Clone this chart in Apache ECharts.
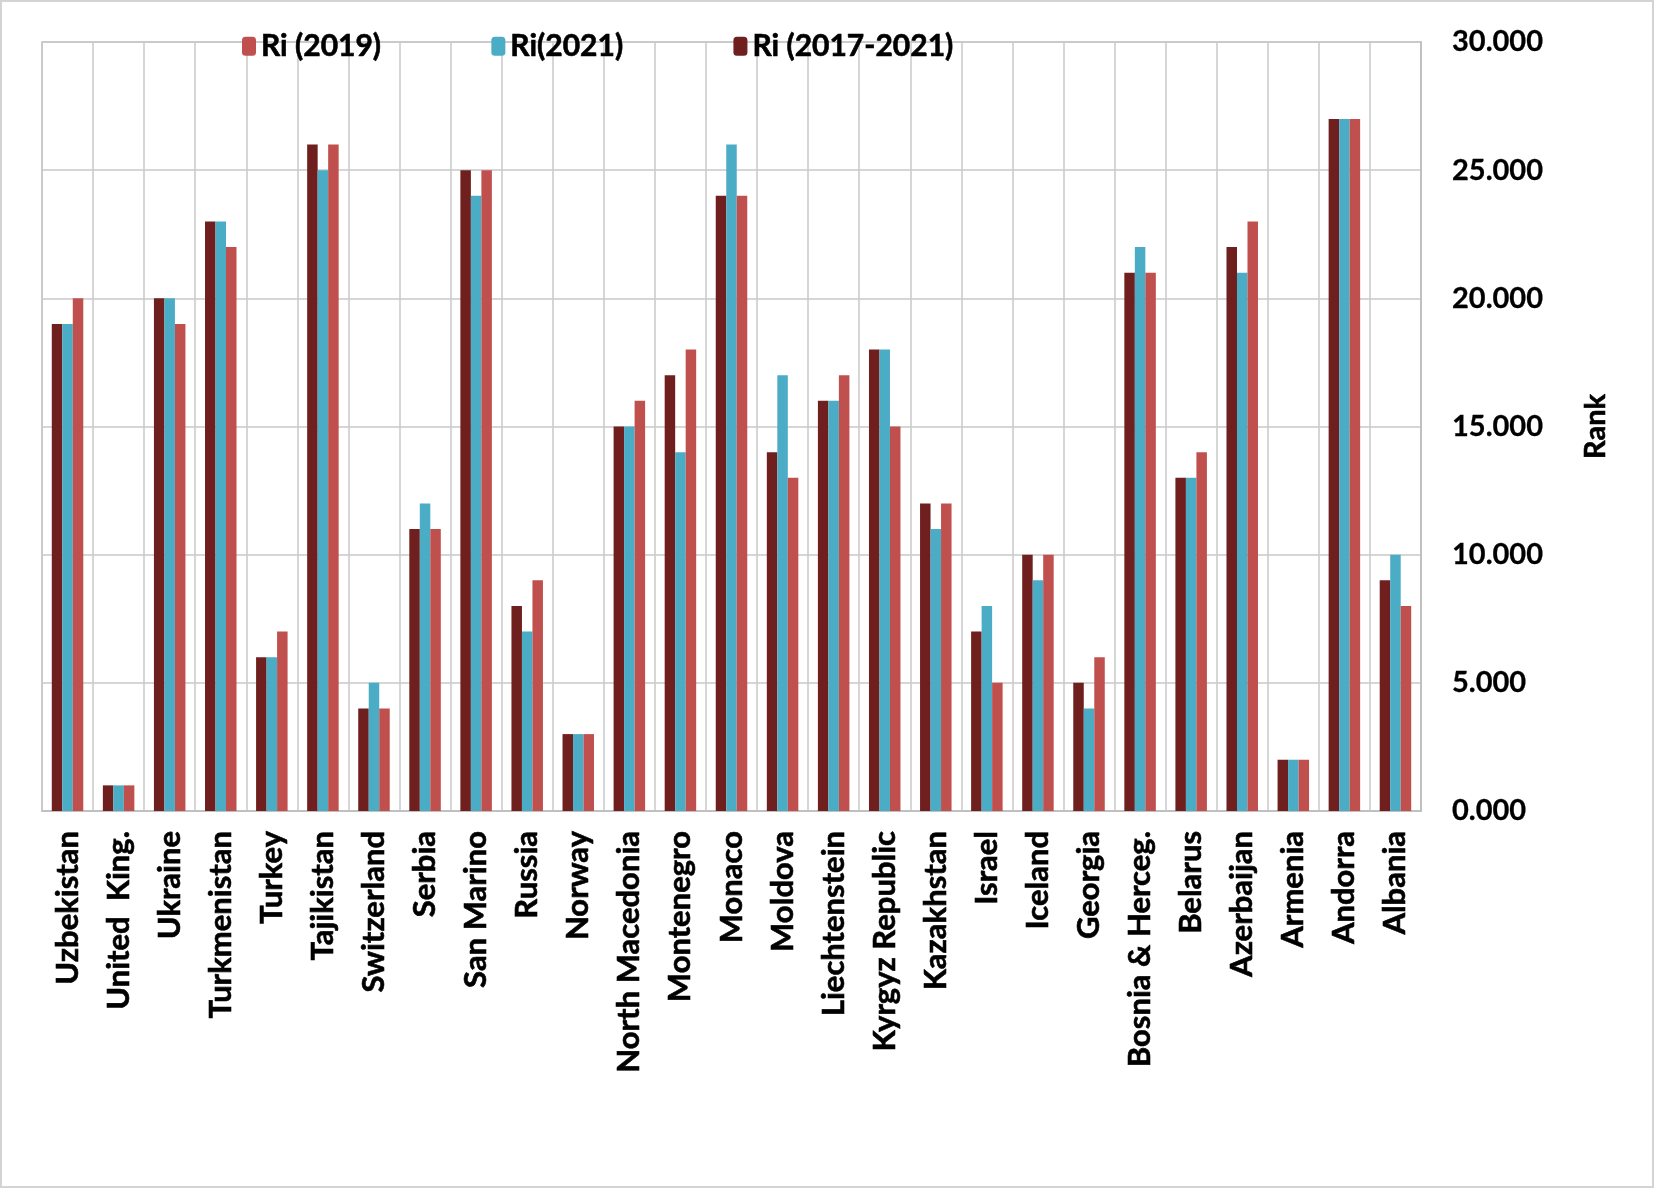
<!DOCTYPE html>
<html>
<head>
<meta charset="utf-8">
<script src="https://cdn.jsdelivr.net/npm/echarts@6/dist/echarts.min.js"></script>
<style>
html,body{margin:0;padding:0;background:#fff;}
#c{width:1654px;height:1188px;box-sizing:border-box;border:2px solid #d4d4d4;}
</style>
</head>
<body>
<div id="c"></div>
<script>
const categories = ["Uzbekistan","United  King.","Ukraine","Turkmenistan","Turkey","Tajikistan","Switzerland","Serbia","San Marino","Russia","Norway","North Macedonia","Montenegro","Monaco","Moldova","Liechtenstein","Kyrgyz Republic","Kazakhstan","Israel","Iceland","Georgia","Bosnia & Herceg.","Belarus","Azerbaijan","Armenia","Andorra","Albania"];
const ri2017_2021 = [19,1,20,23,6,26,4,11,25,8,3,15,17,24,14,16,18,12,7,10,5,21,13,22,2,27,9];
const ri2021 = [19,1,20,23,6,25,5,12,24,7,3,15,14,26,17,16,18,11,8,9,4,22,13,21,2,27,10];
const ri2019 = [20,1,19,22,7,26,4,11,25,9,3,16,18,24,13,17,15,12,5,10,6,21,14,23,2,27,8];
const yTicks = {min:0, max:30, interval:5};

const FONT = 'Lato';
const chart = echarts.init(document.getElementById('c'), null, {renderer:'canvas'});
const barW = 10.5;
const heavy = {fontWeight:'bold', color:'#000', fontFamily:FONT, textBorderColor:'#000', textBorderWidth:0.6};
chart.setOption({
  animation:false,
  backgroundColor:'#fff',
  textStyle:{fontFamily:FONT},
  legend:{
    left:235, top:24,
    itemWidth:14, itemHeight:19, itemGap:110, itemStyle:{borderWidth:0},
    data:['Ri (2019)','Ri(2021)','Ri (2017-2021)'],
    textStyle:Object.assign({fontSize:30}, heavy)
  },
  grid:{left:40, right:231, top:40, bottom:375, show:true, borderColor:'#bdbdbd', borderWidth:1.5, containLabel:false},
  xAxis:{
    type:'category', data:categories,
    axisLine:{show:true, lineStyle:{color:'#bdbdbd', width:1.5}},
    axisTick:{show:false},
    splitLine:{show:true, interval:0, lineStyle:{color:'#c8c8c8', width:1.5}},
    axisLabel:Object.assign({rotate:90, interval:0, fontSize:31, margin:20}, heavy)
  },
  yAxis:{
    type:'value', position:'right', min:yTicks.min, max:yTicks.max, interval:yTicks.interval,
    name:'Rank', nameLocation:'middle', nameRotate:90, nameGap:160,
    nameTextStyle:Object.assign({fontSize:29}, heavy),
    axisLine:{show:true, lineStyle:{color:'#bdbdbd', width:1.5}},
    axisTick:{show:false},
    splitLine:{show:true, lineStyle:{color:'#c8c8c8', width:1.5}},
    axisLabel:Object.assign({fontSize:29, margin:31, formatter:v=>v.toFixed(3)}, heavy, {textBorderWidth:0.3})
  },
  series:[
    {name:'Ri (2017-2021)', type:'bar', data:ri2017_2021, barWidth:barW, barGap:'0%', itemStyle:{color:'#6e1f1e'}},
    {name:'Ri(2021)', type:'bar', data:ri2021, barWidth:barW, barGap:'0%', itemStyle:{color:'#4bacc6'}},
    {name:'Ri (2019)', type:'bar', data:ri2019, barWidth:barW, barGap:'0%', itemStyle:{color:'#c0504d'}}
  ]
});
</script>
</body>
</html>
